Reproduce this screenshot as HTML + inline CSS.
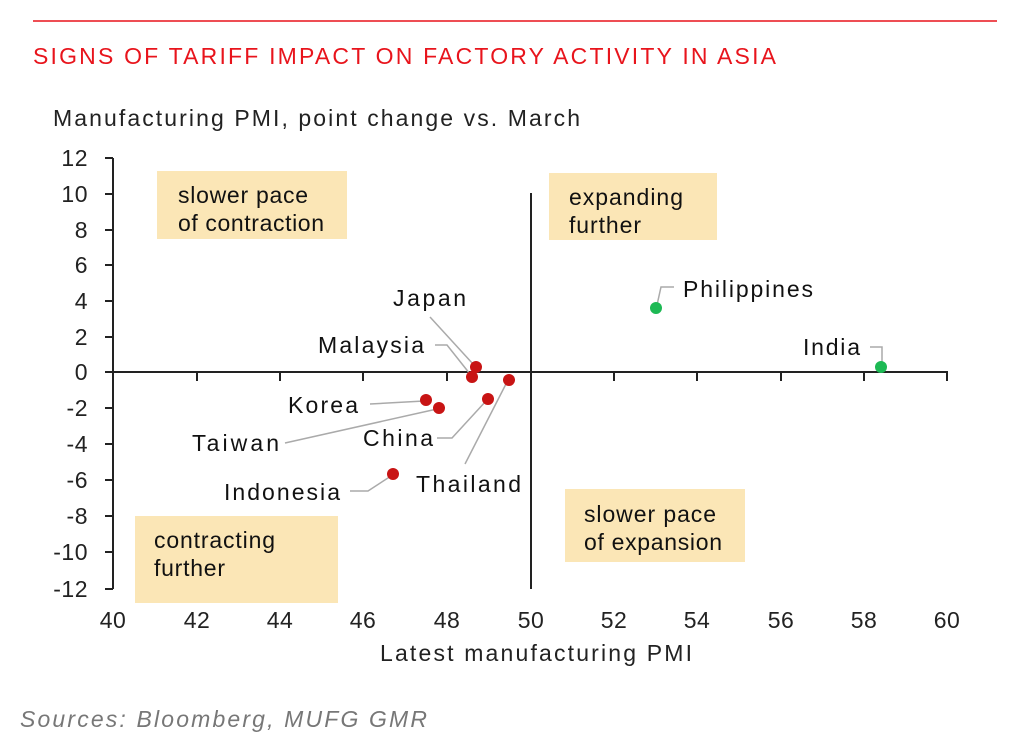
<!DOCTYPE html>
<html><head><meta charset="utf-8"><style>
body{margin:0;background:#fff;width:1022px;height:756px;overflow:hidden}
svg{display:block}
text{font-family:"Liberation Sans",Arial,sans-serif}
</style></head><body>
<svg width="1022" height="756" viewBox="0 0 1022 756">
<line x1="33" y1="21" x2="997" y2="21" stroke="#e8141c" stroke-width="1.5"/>
<text x="33" y="64" font-size="23" fill="#e8141c" textLength="743" lengthAdjust="spacing">SIGNS OF TARIFF IMPACT ON FACTORY ACTIVITY IN ASIA</text>
<text x="53" y="126" font-size="23" fill="#222" textLength="527" lengthAdjust="spacing">Manufacturing PMI, point change vs. March</text>
<g fill="#fbe6b6">
<rect x="157" y="171" width="190" height="68"/>
<rect x="549" y="173" width="168" height="67"/>
<rect x="565" y="489" width="180" height="73"/>
<rect x="135" y="516" width="203" height="87"/>
</g>
<g font-size="23" fill="#111" lengthAdjust="spacing">
<text x="178" y="203" textLength="130">slower pace</text><text x="178" y="231" textLength="146">of contraction</text>
<text x="569" y="205" textLength="114">expanding</text><text x="569" y="233" textLength="72">further</text>
<text x="584" y="522" textLength="132">slower pace</text><text x="584" y="550" textLength="138">of expansion</text>
<text x="154" y="548" textLength="121">contracting</text><text x="154" y="576" textLength="71">further</text>
</g>
<g stroke="#222" stroke-width="2" fill="none">
<line x1="113" y1="158" x2="113" y2="589"/>
<line x1="113" y1="372" x2="948" y2="372"/>
<line x1="531" y1="193" x2="531" y2="589"/>
</g>
<g stroke="#222" stroke-width="2">
<line x1="105" y1="158" x2="113" y2="158"/><line x1="105" y1="194" x2="113" y2="194"/><line x1="105" y1="230" x2="113" y2="230"/><line x1="105" y1="265" x2="113" y2="265"/><line x1="105" y1="301" x2="113" y2="301"/><line x1="105" y1="337" x2="113" y2="337"/><line x1="105" y1="372" x2="113" y2="372"/><line x1="105" y1="408" x2="113" y2="408"/><line x1="105" y1="444" x2="113" y2="444"/><line x1="105" y1="480" x2="113" y2="480"/><line x1="105" y1="516" x2="113" y2="516"/><line x1="105" y1="552" x2="113" y2="552"/><line x1="105" y1="589" x2="113" y2="589"/>
<line x1="197" y1="372" x2="197" y2="381"/><line x1="280" y1="372" x2="280" y2="381"/><line x1="363" y1="372" x2="363" y2="381"/><line x1="447" y1="372" x2="447" y2="381"/><line x1="614" y1="372" x2="614" y2="381"/><line x1="697" y1="372" x2="697" y2="381"/><line x1="781" y1="372" x2="781" y2="381"/><line x1="864" y1="372" x2="864" y2="381"/><line x1="947" y1="372" x2="947" y2="381"/>
</g>
<g font-size="23" fill="#222" text-anchor="end" letter-spacing="0.5">
<text x="88" y="166">12</text><text x="88" y="202">10</text><text x="88" y="238">8</text><text x="88" y="273">6</text><text x="88" y="309">4</text><text x="88" y="345">2</text><text x="88" y="380">0</text><text x="88" y="416">-2</text><text x="88" y="452">-4</text><text x="88" y="488">-6</text><text x="88" y="524">-8</text><text x="88" y="560">-10</text><text x="88" y="597">-12</text>
</g>
<g font-size="23" fill="#222" text-anchor="middle" letter-spacing="0.5">
<text x="113" y="628">40</text><text x="197" y="628">42</text><text x="280" y="628">44</text><text x="363" y="628">46</text><text x="447" y="628">48</text><text x="531" y="628">50</text><text x="614" y="628">52</text><text x="697" y="628">54</text><text x="781" y="628">56</text><text x="864" y="628">58</text><text x="947" y="628">60</text>
</g>
<text x="380" y="661" font-size="23" fill="#222" textLength="312" lengthAdjust="spacing">Latest manufacturing PMI</text>
<g stroke="#aaa" stroke-width="1.5" fill="none">
<polyline points="430,317 473,364"/>
<polyline points="435,345 447,345 470,374"/>
<polyline points="370,404 424,401"/>
<polyline points="285,443 437,409"/>
<polyline points="437,438 452,438 486,401"/>
<polyline points="465,464 507,382"/>
<polyline points="350,491 368,491 391,476"/>
<polyline points="674,287 661,287 657,305"/>
<polyline points="870,347 882,347 882,365"/>
</g>
<g fill="#c81414">
<circle cx="476" cy="367" r="6"/><circle cx="472" cy="377" r="6"/><circle cx="426" cy="400" r="6"/><circle cx="439" cy="408" r="6"/><circle cx="488" cy="399" r="6"/><circle cx="509" cy="380" r="6"/><circle cx="393" cy="474" r="6"/>
</g>
<g fill="#1db954"><circle cx="656" cy="308" r="6"/><circle cx="881" cy="367" r="6"/></g>
<g font-size="23" fill="#111" lengthAdjust="spacing">
<text x="393" y="306" textLength="73">Japan</text>
<text x="318" y="353" textLength="106">Malaysia</text>
<text x="288" y="413" textLength="70">Korea</text>
<text x="192" y="451" textLength="87">Taiwan</text>
<text x="363" y="446" textLength="70">China</text>
<text x="416" y="492" textLength="105">Thailand</text>
<text x="224" y="500" textLength="116">Indonesia</text>
<text x="683" y="297" textLength="130">Philippines</text>
<text x="803" y="355" textLength="57">India</text>
</g>
<text x="20" y="727" font-size="23" font-style="italic" fill="#777" textLength="407" lengthAdjust="spacing">Sources:  Bloomberg, MUFG GMR</text>
</svg>
</body></html>
